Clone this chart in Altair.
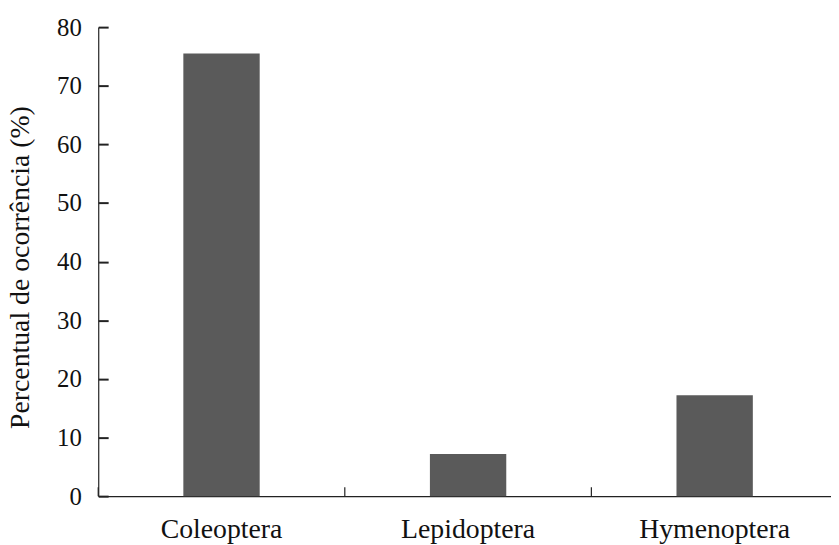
import altair as alt
import pandas as pd

categories = ["Coleoptera", "Lepidoptera", "Hymenoptera"]
values = [75.5, 7.2, 17.2]
y_ticks = [0, 10, 20, 30, 40, 50, 60, 70, 80]

df = pd.DataFrame({"cat": categories, "val": values})

FONT = "Times New Roman"
W, H = 739, 473
AX = "#222222"

xscale = alt.Scale(domain=categories, paddingInner=0, paddingOuter=0, range=[0, 746])
yscale = alt.Scale(domain=[0, 80], nice=False, zero=True)

x_axis = alt.Axis(title=None, labelAngle=0, ticks=False, domain=True,
                  domainColor=AX, domainWidth=1.2,
                  labelFont=FONT, labelFontSize=28, labelColor="#111111",
                  labelBaseline="alphabetic", labelPadding=42)
y_axis = alt.Axis(title="Percentual de ocorrência (%)", values=y_ticks,
                  ticks=True, tickSize=alt.ExprRef("-10"), tickColor="#222222", tickWidth=2,
                  tickOpacity=1,
                  grid=False, domainColor=AX, domainWidth=1.2,
                  labelFont=FONT, labelFontSize=25, labelColor="#111111",
                  labelPadding=27,
                  titleFont=FONT, titleFontSize=28, titleFontWeight="normal",
                  titleColor="#111111", titleX=-78, titleY=242,
                  titleAngle=270, titleAlign="center", titleBaseline="middle")

bars = alt.Chart(df).mark_bar(size=77, color="#5a5a5a").encode(
    x=alt.X("cat:N", scale=xscale, sort=categories, axis=x_axis),
    y=alt.Y("val:Q", scale=yscale, axis=y_axis),
)

xtick_rules = alt.Chart(df).mark_rule(color=AX, strokeWidth=1.2).encode(
    x=alt.X("cat:N", scale=xscale, sort=categories, bandPosition=0, axis=x_axis),
    y=alt.value(H), y2=alt.value(H - 9),
)

chart = alt.layer(bars, xtick_rules).properties(
    width=W, height=H,
    autosize=alt.AutoSizeParams(type="none"),
    padding={"left": 91, "top": 17, "right": 0, "bottom": 47},
    background="white",
).configure_view(stroke=None)

chart.save("out.html", embed_options={"renderer": "svg", "actions": False})
